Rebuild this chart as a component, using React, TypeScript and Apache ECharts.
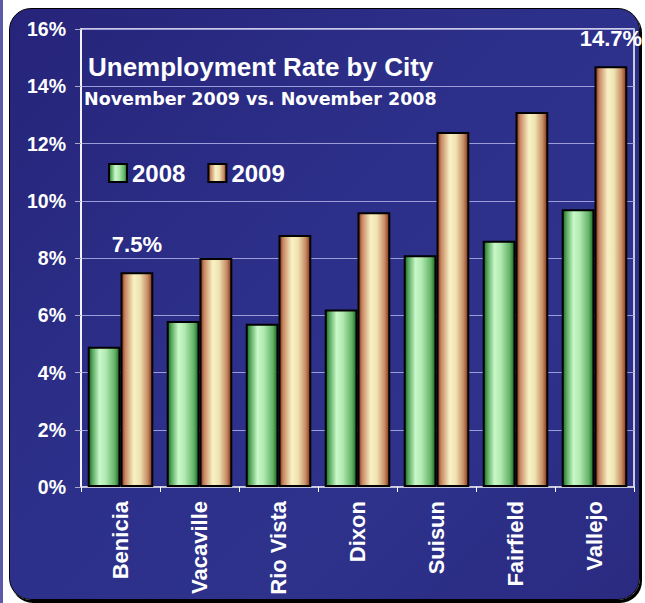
import React, { useEffect, useRef } from "react";
import * as echarts from "echarts";

const categories = ["Benicia", "Vacaville", "Rio Vista", "Dixon", "Suisun", "Fairfield", "Vallejo"];
const rate2008 = [4.9, 5.8, 5.7, 6.2, 8.1, 8.6, 9.7];
const rate2009 = [7.5, 8.0, 8.8, 9.6, 12.4, 13.1, 14.7];
const labelled2009 = [0, 6];
const seriesNames = ["2008", "2009"];
const titleText = "Unemployment Rate by City";
const subtitleText = "November 2009 vs. November 2008";
const yMin = 0;
const yMax = 16;
const yStep = 2;

const FONT = "'Liberation Sans', Arial, Helvetica, sans-serif";

const greenGrad = new echarts.graphic.LinearGradient(0, 0, 1, 0, [
  { offset: 0, color: "#1a6424" },
  { offset: 0.12, color: "#56a85c" },
  { offset: 0.35, color: "#c8f8c8" },
  { offset: 0.55, color: "#b2eab2" },
  { offset: 0.85, color: "#62b266" },
  { offset: 1, color: "#1a6424" },
]);
const tanGrad = new echarts.graphic.LinearGradient(0, 0, 1, 0, [
  { offset: 0, color: "#863016" },
  { offset: 0.12, color: "#c88762" },
  { offset: 0.4, color: "#f8f2c4" },
  { offset: 0.6, color: "#f0e2b2" },
  { offset: 0.85, color: "#c58c64" },
  { offset: 1, color: "#863016" },
]);

export default function App() {
  const ref = useRef<HTMLDivElement>(null);
  useEffect(() => {
    if (!ref.current) return;
    const chart = echarts.init(ref.current, undefined, { renderer: "svg" });
    chart.setOption({
      animation: false,
      backgroundColor: "transparent",
      textStyle: { fontFamily: FONT },
      grid: {
        left: 81,
        right: 11,
        top: 29,
        bottom: 116,
        show: true,
        borderColor: "#ffffff",
        borderWidth: 1.5,
        backgroundColor: "transparent",
      },
      legend: {
        data: seriesNames,
        left: 108,
        top: 161,
        padding: 0,
        itemWidth: 18,
        itemHeight: 18,
        itemGap: 22,
        icon: "rect",
        textStyle: { color: "#ffffff", fontSize: 24, fontWeight: "bold", fontFamily: FONT },
      },
      graphic: [
        {
          type: "text",
          left: 88,
          top: 54,
          style: {
            text: titleText,
            fill: "#ffffff",
            font: `bold 26px ${FONT}`,
          },
          z: 10,
        },
        {
          type: "text",
          left: 84,
          top: 90,
          style: {
            text: subtitleText,
            fill: "#ffffff",
            font: `bold 17.5px 'DejaVu Sans', sans-serif`,
          },
          z: 10,
        },
      ],
      xAxis: {
        type: "category",
        data: categories,
        axisLine: { show: true, lineStyle: { color: "#d0d0e0", width: 1.5 } },
        axisTick: { show: true, length: 5, lineStyle: { color: "#ffffff" } },
        axisLabel: {
          rotate: 90,
          margin: 14,
          color: "#ffffff",
          fontSize: 22,
          fontWeight: "bold",
          fontFamily: FONT,
        },
      },
      yAxis: {
        type: "value",
        min: yMin,
        max: yMax,
        interval: yStep,
        axisLine: { show: true, lineStyle: { color: "#ffffff", width: 1.5 } },
        axisTick: { show: true, length: 6, lineStyle: { color: "#a8a8c8" } },
        axisLabel: {
          formatter: "{value}%",
          margin: 15,
          color: "#ffffff",
          fontSize: 19.5,
          fontWeight: "bold",
          fontFamily: FONT,
        },
        splitLine: { show: true, lineStyle: { color: "#9c9cd8", width: 1 } },
      },
      series: [
        {
          name: seriesNames[0],
          type: "bar",
          data: rate2008,
          barGap: "0%",
          barCategoryGap: "17%",
          itemStyle: { color: greenGrad, borderColor: "#000000", borderWidth: 2 },
        },
        {
          name: seriesNames[1],
          type: "bar",
          data: rate2009.map((v, i) => ({
            value: v,
            label: { show: labelled2009.includes(i) },
          })),
          barGap: "0%",
          barCategoryGap: "17%",
          itemStyle: { color: tanGrad, borderColor: "#000000", borderWidth: 2 },
          label: {
            show: false,
            position: "top",
            distance: 17,
            color: "#ffffff",
            fontSize: 22,
            fontWeight: "bold",
            fontFamily: FONT,
            formatter: (p: any) => Number(p.value).toFixed(1) + "%",
          },
        },
      ],
    });
    return () => chart.dispose();
  }, []);

  return (
    <div style={{ position: "fixed", left: 0, top: 0, width: 645, height: 603, background: "#ffffff", overflow: "hidden" }}>
      <div style={{ position: "absolute", left: 0, top: 0, width: 3, height: 603, background: "#5a5aa8" }} />
      <div
        style={{
          position: "absolute",
          left: 9,
          top: 8,
          width: 629,
          height: 590,
          borderRadius: 22,
          border: "1.5px solid #000",
          boxShadow: "2px 3px 0 #000",
          background: "linear-gradient(135deg, #26247a 0%, #2d308a 45%, #2e328b 70%, #2a2a80 100%)",
        }}
      />
      <div ref={ref} style={{ position: "absolute", left: 0, top: 0, width: 645, height: 603 }} />
    </div>
  );
}
